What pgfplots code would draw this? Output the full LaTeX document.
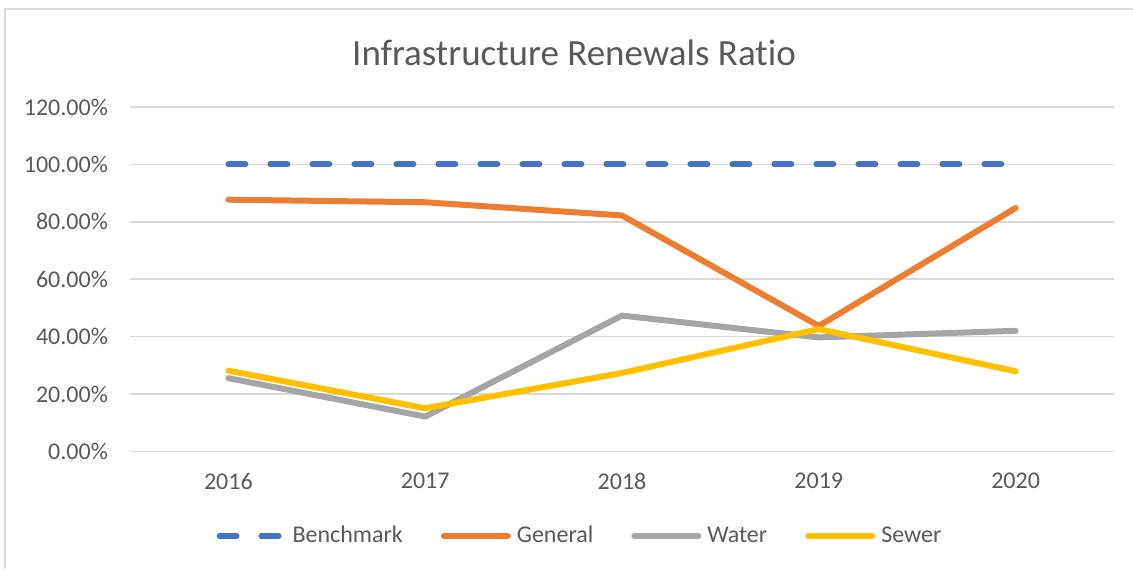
\documentclass[border=0pt]{standalone}
\usepackage{pgfplots}
\pgfplotsset{compat=1.18}
\usepackage{fontspec}
\setmainfont{Carlito}[Ligatures={NoCommon}]
\definecolor{bench}{HTML}{4472C4}
\definecolor{gen}{HTML}{ED7D31}
\definecolor{wat}{HTML}{A5A5A5}
\definecolor{sew}{HTML}{FFC000}
\definecolor{gridc}{HTML}{D9D9D9}
\definecolor{txt}{HTML}{595959}
\begin{document}
\begin{tikzpicture}
\path[use as bounding box] (0,0) rectangle (566.5pt,284.5pt);
\draw[gridc, line width=0.75pt] (2.5pt,0pt) -- (2.5pt,280pt) -- (566.5pt,280pt);
\node[text=txt, font=\fontsize{18.5}{22}\selectfont] at (287pt,258pt) {Infrastructure Renewals Ratio};
\begin{axis}[
  at={(65pt,58.85pt)}, anchor=south west,
  scale only axis, width=492pt, height=172.15pt,
  xmin=-0.5, xmax=4.5, ymin=0, ymax=120,
  xtick={0,1,2,3,4}, xticklabels={2016,2017,2018,2019,2020},
  ytick={0,20,40,60,80,100,120},
  yticklabels={0.00\%,20.00\%,40.00\%,60.00\%,80.00\%,100.00\%,120.00\%},
  /pgf/number format/assume math mode=true,
  major tick length=0pt,
  axis line style={draw=none},
  ymajorgrids, xmajorgrids=false,
  major grid style={draw=gridc, line width=0.75pt},
  tick label style={text=txt, font=\fontsize{12}{14}\selectfont},
  yticklabel style={anchor=east, xshift=-7.5pt},
  xticklabel style={anchor=north, yshift=-7.5pt},
  clip=false,
  every axis plot/.append style={line width=3pt, line cap=round, line join=round},
  legend columns=4,
  legend style={at={(0.4583,-0.2460)}, anchor=center, draw=none, fill=none,
    font=\fontsize{12}{14}\selectfont, text=txt,
    /tikz/every even column/.append style={column sep=17pt},
    /tikz/every odd column/.append style={column sep=1pt}},
  legend image code/.code={\draw[#1] (0pt,0pt) -- (32pt,0pt);},
]
\addplot[bench, dash pattern=on 8.5pt off 12.5pt] coordinates {(0,100) (1,100) (2,100) (3,100) (4,100)};
\addlegendentry{Benchmark}
\addplot[gen] coordinates {(0,87.7) (1,86.8) (2,82.2) (3,43.7) (4,84.8)};
\addlegendentry{General}
\addplot[wat] coordinates {(0,25.5) (1,12.1) (2,47.3) (3,39.7) (4,42.0)};
\addlegendentry{Water}
\addplot[sew] coordinates {(0,28.1) (1,15.0) (2,27.3) (3,42.6) (4,27.9)};
\addlegendentry{Sewer}
\end{axis}
\end{tikzpicture}
\end{document}
